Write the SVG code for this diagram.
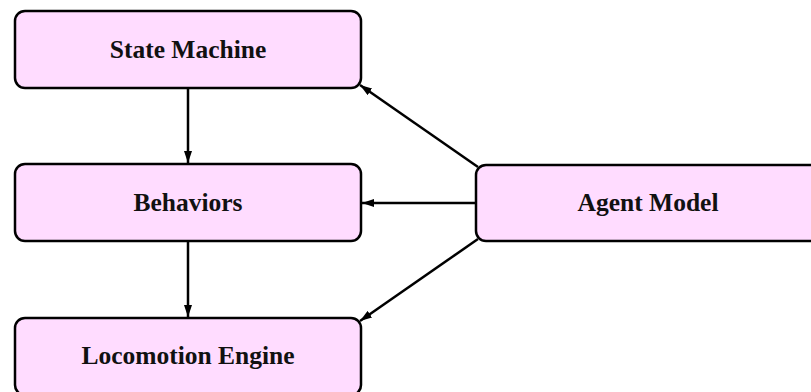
<svg xmlns="http://www.w3.org/2000/svg" width="811" height="392" viewBox="0 0 811 392">
  <style>
    .box { fill: #ffdcff; stroke: #000; stroke-width: 2.5; }
    .label { font-family: "Liberation Serif", "Times New Roman", serif; font-weight: bold; font-size: 25.5px; text-anchor: middle; fill: #111; }
    .edge { stroke: #000; stroke-width: 2.5; fill: none; marker-end: url(#head); }
  </style>
  <defs>
    <marker id="head" viewBox="0 0 12 8" refX="12" refY="4" markerWidth="12" markerHeight="8" markerUnits="userSpaceOnUse" orient="auto">
      <path d="M0,0 L12,4 L0,8 Z" fill="#000"/>
    </marker>
  </defs>

  <rect width="811" height="392" fill="#fff"/>

  <g id="connectors">
    <line class="edge" x1="188" y1="89" x2="188" y2="163"/>
    <line class="edge" x1="188" y1="242" x2="188" y2="317"/>
    <line class="edge" x1="476" y1="203" x2="362" y2="203"/>
    <line class="edge" x1="478" y1="167" x2="360" y2="85"/>
    <line class="edge" x1="478" y1="239" x2="360" y2="321"/>
  </g>

  <g id="state-machine">
    <rect class="box" x="15" y="11" width="346" height="77" rx="10"/>
    <text class="label" x="188" y="57.5">State Machine</text>
  </g>

  <g id="behaviors">
    <rect class="box" x="15" y="164" width="346" height="77" rx="10"/>
    <text class="label" x="188" y="211">Behaviors</text>
  </g>

  <g id="locomotion-engine">
    <rect class="box" x="15" y="318" width="346" height="77" rx="10"/>
    <text class="label" x="188" y="364">Locomotion Engine</text>
  </g>

  <g id="agent-model">
    <rect class="box" x="476" y="165" width="346" height="76" rx="10"/>
    <text class="label" x="648" y="211">Agent Model</text>
  </g>
</svg>
